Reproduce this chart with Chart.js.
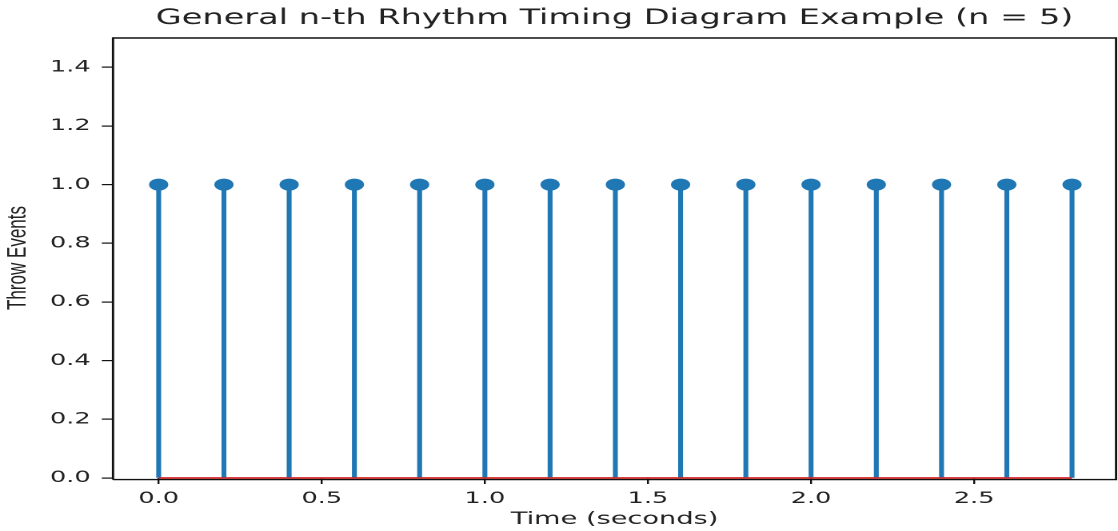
<!DOCTYPE html>
<html>
<head>
<meta charset="utf-8">
<script src="https://cdn.jsdelivr.net/npm/chart.js@4.4.0/dist/chart.umd.min.js"></script>
<style>
  html, body { margin: 0; padding: 0; background: #fff; overflow: hidden; }
  #wrap { width: 699px; height: 531px; transform: scaleX(1.5994); transform-origin: 0 0; }
</style>
</head>
<body>
<div id="wrap"><canvas id="chart" style="width:699px;height:531px"></canvas></div>
<script>
// throw times (seconds) and stem heights
const times = [0.0, 0.2, 0.4, 0.6, 0.8, 1.0, 1.2, 1.4, 1.6, 1.8, 2.0, 2.2, 2.4, 2.6, 2.8];
const throwEvents = [1, 1, 1, 1, 1, 1, 1, 1, 1, 1, 1, 1, 1, 1, 1];
const baselineX = [0.0, 2.8];
const baselineY = [0, 0];
const xTicks = [0.0, 0.5, 1.0, 1.5, 2.0, 2.5];
const yTicks = [0.0, 0.2, 0.4, 0.6, 0.8, 1.0, 1.2, 1.4];

const blue = "#1f77b4";
const red = "#d62728";
const ink = "#222222";

const points = times.map((t, i) => ({ x: t, y: throwEvents[i] }));
const baseline = baselineX.map((t, i) => ({ x: t, y: baselineY[i] }));

// frame around the plot area (like matplotlib spines)
const framePlugin = {
  id: "frame",
  afterDatasetsDraw(chart) {
    const { ctx, chartArea: a } = chart;
    ctx.save();
    ctx.strokeStyle = "#111";
    ctx.lineWidth = 1.4;
    ctx.beginPath();
    ctx.moveTo(a.left, a.bottom + 1.6);
    ctx.lineTo(a.left, a.top);
    ctx.lineTo(a.right, a.top);
    ctx.lineTo(a.right, a.bottom + 1.6);
    ctx.lineTo(a.left, a.bottom + 1.6);
    ctx.stroke();
    ctx.restore();
  },
};

const font = { family: "DejaVu Sans", size: 16 };

new Chart(document.getElementById("chart"), {
  data: {
    datasets: [
      {
        type: "bar",
        data: points,
        backgroundColor: blue,
        barThickness: 2.4,
        order: 3,
      },
      {
        type: "scatter",
        data: points,
        backgroundColor: blue,
        borderColor: blue,
        pointRadius: 6,
        borderWidth: 0,
        order: 2,
      },
      {
        type: "line",
        data: baseline,
        borderColor: red,
        borderWidth: 1.8,
        pointRadius: 0,
        clip: false,
        order: 1,
      },
    ],
  },
  options: {
    responsive: false,
    devicePixelRatio: 2,
    animation: false,
    layout: { autoPadding: false, padding: { left: 0, right: 1.2, top: 0, bottom: 0 } },
    plugins: {
      legend: { display: false },
      tooltip: { enabled: false },
      title: {
        display: true,
        fullSize: false,
        text: "General n-th Rhythm Timing Diagram Example (n = 5)",
        color: ink,
        font: { family: "DejaVu Sans", size: 21, weight: "normal", lineHeight: 1.2 },
        padding: { top: 6, bottom: 6.8 },
      },
    },
    scales: {
      x: {
        type: "linear",
        min: -0.14,
        max: 2.935,
        offset: false,
        border: { display: false },
        grid: { offset: false, drawOnChartArea: false, color: "#111", lineWidth: 1.2, tickLength: 6 },
        afterBuildTicks: (s) => { s.ticks = xTicks.map((v) => ({ value: v })); },
        afterFit: (s) => { s.height = 53; },
        ticks: {
          color: ink,
          font: font,
          padding: 5,
          maxRotation: 0,
          callback: (v) => Number(v).toFixed(1),
        },
        title: {
          display: true,
          text: "Time (seconds)",
          color: ink,
          font: { family: "DejaVu Sans", size: 17, lineHeight: 1.2 },
          padding: { top: 0, bottom: 1 },
        },
      },
      y: {
        min: 0,
        max: 1.5,
        border: { display: false },
        grid: { drawOnChartArea: false, color: "#111", lineWidth: 1.2, tickLength: 7 },
        afterBuildTicks: (s) => { s.ticks = yTicks.map((v) => ({ value: v })); },
        afterFit: (s) => { s.width = 70.65; },
        ticks: {
          color: ink,
          font: font,
          padding: 7,
          callback: (v) => Number(v).toFixed(1),
        },
        title: {
          display: true,
          text: "Throw Events",
          color: ink,
          font: { family: "Liberation Sans", size: 17, lineHeight: 1.2 },
          padding: { top: 1, bottom: 0 },
        },
      },
    },
  },
  plugins: [framePlugin],
});
</script>
</body>
</html>
